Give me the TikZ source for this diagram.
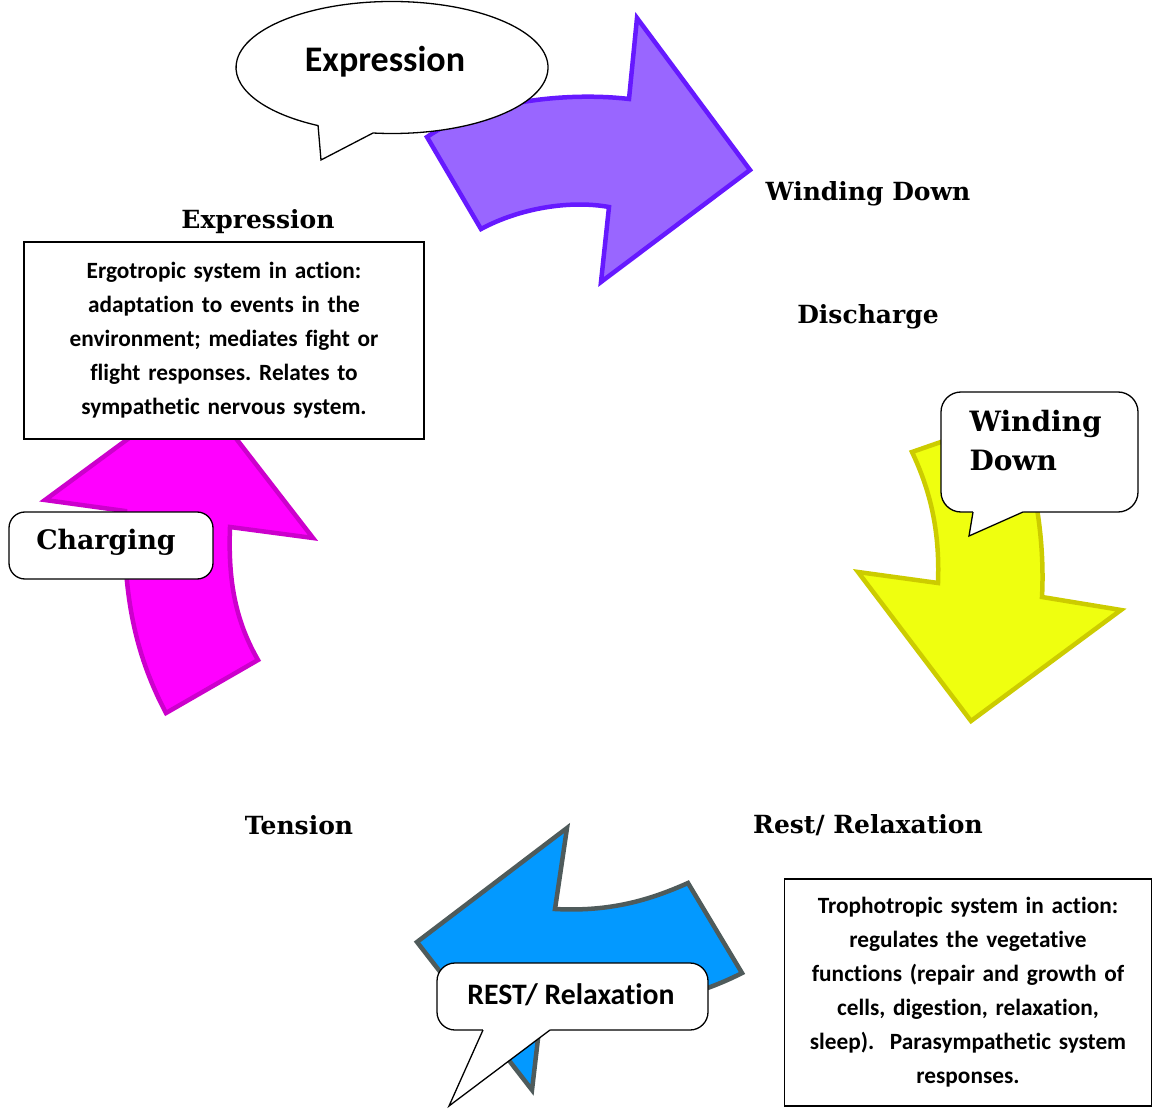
\documentclass[tikz,border=0pt]{standalone}
\usepackage{fontspec}
\newfontfamily\labfont{DejaVu Serif}
\newfontfamily\boxfont{Carlito}[Ligatures=CommonOff]
\definecolor{purplefill}{HTML}{9966FF}
\definecolor{purpleline}{HTML}{6619FF}
\definecolor{yellowfill}{HTML}{EFFF0F}
\definecolor{yellowline}{HTML}{CCCC00}
\definecolor{magentafill}{HTML}{FF00FF}
\definecolor{magentaline}{HTML}{CC00CC}
\definecolor{bluefill}{HTML}{0399FF}
\definecolor{blueline}{HTML}{4F5B5B}
\frenchspacing
\begin{document}
\begin{tikzpicture}[x=1pt,y=-1pt,line join=miter,
  bigarrow/.style={line width=4.5pt},
  callout/.style={draw,fill=white,line width=1.3pt},
  lab/.style={font=\labfont\bfseries\fontsize{25}{30}\selectfont},
  calltext/.style={font=\labfont\bfseries\fontsize{28}{39}\selectfont},
  infobox/.style={draw,fill=white,line width=1.3pt,align=center,inner sep=0pt,
    font=\boxfont\bfseries\fontsize{23.3}{34}\selectfont}]
\useasboundingbox(0,0)rectangle(1152,1110);
% the four arrows
\filldraw[bigarrow,draw=purpleline,fill=purplefill](427,137)..controls(480,100)and(570,92)..(629,99)
  --(637,18)--(750,170)--(601,282)--(609,207)..controls(570,200)and(520,208)..(481,229)--cycle;
\filldraw[bigarrow,draw=yellowline,fill=yellowfill](912,452)--(1010,418)..controls(1035,470)and(1045,540)..(1042,597)
  --(1121,610)--(971,721)--(858,572)--(938,583)..controls(940,530)and(930,490)..(912,452)--cycle;
\filldraw[bigarrow,draw=blueline,fill=bluefill](417,942)--(567,828)--(555,909)..controls(610,912)and(650,900)..(688,883)
  --(742,973)..controls(680,1005)and(600,1015)..(541,1013)--(532,1090)--cycle;
\filldraw[bigarrow,draw=magentaline,fill=magentafill](166,713)--(258,660)..controls(235,620)and(228,580)..(230,527)
  --(313,538)--(197,388)--(45,500)--(125,511)..controls(122,600)and(138,660)..(166,713)--cycle;
% labels round the cycle
\node[lab](expr) at (258,222){Expression};
\node[lab](wind) at (868,194){Winding Down};
\node[lab](disch) at (868,317){Discharge};
\node[lab](tens) at (299,825){Tension};
\node[lab](rest) at (868,825){Rest/ Relaxation};
% callouts
\filldraw[callout](373,133)arc[start angle=97,end angle=-241.7,x radius=156,y radius=66]--(321,160)--cycle;
\node[font=\boxfont\bfseries\fontsize{36}{40}\selectfont](exprcall) at (385,62){Expression};
\filldraw[callout,rounded corners=20](941,392)rectangle(1138,512);
\fill[white](973,509)--(973,512)--(969,536)--(1023,512)--(1023,509)--cycle;
\draw[line width=1.3pt](973,512)--(969,536)--(1023,512);
\node[calltext,align=left,anchor=west](windcall) at (966,441){Winding\\Down};
\node[callout,rounded corners=16,minimum width=204,minimum height=67](charge) at (111,545.5){};
\node[font=\labfont\bfseries\fontsize{26.8}{30}\selectfont](chargetext) at (106,542){Charging};
\filldraw[callout,rounded corners=18](437,963)rectangle(708,1030);
\fill[white](483,1027)--(483,1030)--(449,1106)--(550,1030)--(550,1027)--cycle;
\draw[line width=1.3pt](483,1030)--(449,1106)--(550,1030);
\node[font=\boxfont\bfseries\fontsize{29.7}{32}\selectfont](restcall) at (571,995){REST/ Relaxation};
% text boxes
\node[infobox,minimum width=400,minimum height=197,text width=390](ergo) at (224,340.5)
  {Ergotropic system in action:\\adaptation to events in the\\environment; mediates fight or\\flight responses. Relates to\\sympathetic nervous system.};
\node[infobox,minimum width=367,minimum height=227,text width=360](tropho) at (968,992.5)
  {Trophotropic system in action:\\regulates the vegetative\\functions (repair and growth of\\cells, digestion, relaxation,\\sleep).\ \ Parasympathetic system\\responses.};
\end{tikzpicture}
\end{document}
